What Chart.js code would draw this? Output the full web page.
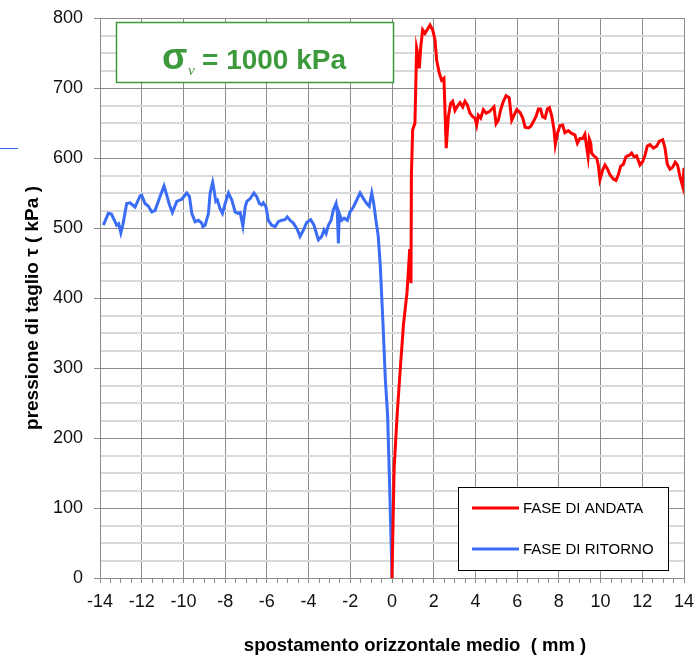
<!DOCTYPE html>
<html>
<head>
<meta charset="utf-8">
<script src="https://cdn.jsdelivr.net/npm/chart.js@4/dist/chart.umd.min.js"></script>
<style>
  html, body { margin: 0; padding: 0; background: #fff; }
  #wrap { width: 694px; height: 657px; position: relative; }
</style>
</head>
<body>
<div id="wrap"><canvas id="grafico" width="694" height="657"></canvas></div>
<script>
// fase di andata (rosso): spostamento (mm) e pressione di taglio (kPa)
const andataX = [0, 0.1, 0.25, 0.4, 0.55, 0.72, 0.85, 0.91, 0.93, 0.99, 1.1, 1.18, 1.26, 1.31, 1.38, 1.47, 1.58, 1.7, 1.82, 1.95,
  2.06, 2.14, 2.27, 2.38, 2.49, 2.6, 2.7, 2.81, 2.91, 3.02, 3.13, 3.26, 3.39, 3.5, 3.61, 3.74, 3.87, 3.98,
  4.06, 4.14, 4.25, 4.38, 4.51, 4.66, 4.83, 4.89, 4.99, 5.1, 5.21, 5.34, 5.47, 5.62, 5.74, 5.85, 5.98,
  6.14, 6.27, 6.38, 6.54, 6.65, 6.78, 6.9, 7.02, 7.12, 7.22, 7.34, 7.45, 7.55, 7.66, 7.77, 7.83, 7.93,
  8.05, 8.18, 8.29, 8.45, 8.61, 8.77, 8.89, 9.01, 9.14, 9.25, 9.33, 9.4, 9.46, 9.53, 9.57, 9.68, 9.81, 9.89, 9.97,
  10.1, 10.21, 10.32, 10.45, 10.61, 10.74, 10.85, 10.96, 11.09, 11.22, 11.38, 11.49, 11.6, 11.73, 11.89,
  12.02, 12.13, 12.24, 12.37, 12.53, 12.69, 12.82, 12.98, 13.09, 13.2, 13.33, 13.46, 13.58, 13.69, 13.81, 13.94, 14.0];
const andataY = [0, 155, 235, 300, 362, 408, 470, 421, 575, 640, 650, 757, 745, 728, 759, 783, 778, 784, 790, 783,
  769, 740, 721, 711, 714, 614, 659, 678, 681, 668, 674, 679, 673, 681, 676, 664, 659, 657,
  647, 661, 657, 669, 664, 666, 671, 673, 649, 654, 669, 681, 689, 686, 654, 661, 669,
  665, 657, 644, 643, 645, 652, 659, 670, 670, 659, 657, 670, 672, 660, 640, 619, 635,
  646, 647, 636, 639, 635, 633, 621, 628, 628, 634, 616, 602, 627, 621, 607, 603, 600, 590, 569,
  583, 590, 585, 576, 570, 568, 576, 588, 591, 602, 604, 607, 602, 603, 590,
  595, 604, 617, 619, 614, 617, 624, 626, 614, 591, 584, 587, 594, 590, 573, 559, 586];

// fase di ritorno (blu)
const ritornoX = [-13.84, -13.6, -13.45, -13.2, -13.1, -13.0, -12.9, -12.72, -12.56, -12.32, -12.08, -12.0, -11.84, -11.68,
  -11.52, -11.36, -11.12, -10.93, -10.8, -10.69, -10.53, -10.32, -10.08, -9.84, -9.71, -9.6, -9.44, -9.28, -9.12,
  -9.07, -8.96, -8.8, -8.72, -8.6, -8.53, -8.45, -8.37, -8.25, -8.13, -8.0, -7.84, -7.68, -7.52, -7.39, -7.28,
  -7.15, -7.04, -6.96, -6.8, -6.62, -6.49, -6.36, -6.25, -6.17, -6.04, -5.93, -5.77, -5.6, -5.45, -5.29, -5.13,
  -5.02, -4.89, -4.73, -4.54, -4.41, -4.25, -4.09, -3.9, -3.74, -3.53, -3.37, -3.26, -3.16, -3.05, -2.92, -2.81,
  -2.68, -2.62, -2.57, -2.53, -2.41, -2.29, -2.14, -2.01, -1.85, -1.69, -1.53, -1.37, -1.21, -1.09, -0.97, -0.89,
  -0.77, -0.66, -0.56, -0.43, -0.32, -0.21, -0.11, -0.03, 0];
const ritornoY = [504, 521, 520, 504, 506, 493, 505, 535, 536, 530, 546, 547, 535, 531,
  523, 525, 545, 560, 547, 535, 522, 538, 541, 550, 545, 521, 509, 511, 507,
  502, 504, 521, 550, 565, 554, 538, 540, 528, 521, 535, 550, 540, 523, 521, 522,
  503, 530, 538, 542, 550, 545, 535, 533, 536, 530, 511, 504, 502, 509, 511, 512,
  516, 511, 507, 498, 488, 497, 508, 512, 504, 483, 488, 497, 492, 504, 511, 526,
  535, 521, 478, 521, 511, 514, 511, 523, 530, 540, 550, 542, 535, 531, 550, 538,
  511, 488, 445, 362, 284, 232, 129, 36, 0];

const xTicks = [-14, -12, -10, -8, -6, -4, -2, 0, 2, 4, 6, 8, 10, 12, 14];
const yTicks = [0, 100, 200, 300, 400, 500, 600, 700, 800];

const FONT = "'Liberation Sans', Arial, sans-serif";
const VERDE = '#3c9a3c';

function toPoints(xs, ys) {
    return xs.map((x, i) => ({ x: x, y: ys[i] }));
}

// niente margini automatici per le etichette: l'area del grafico la decide layout.padding
function azzeraPadding(scale) {
    scale.paddingLeft = 0;
    scale.paddingRight = 0;
    scale.paddingTop = 0;
    scale.paddingBottom = 0;
}

// titoli degli assi, riquadro sigma e legenda disegnati sopra il grafico
const decorazioni = {
    id: 'decorazioni',
    afterDraw(chart) {
        const ctx = chart.ctx;
        ctx.save();

        // titolo asse x
        ctx.fillStyle = '#000';
        ctx.font = 'bold 18.5px ' + FONT;
        ctx.textAlign = 'center';
        ctx.textBaseline = 'alphabetic';
        ctx.fillText('spostamento orizzontale medio  ( mm )', 415, 651);

        // titolo asse y
        ctx.save();
        ctx.translate(38, 308);
        ctx.rotate(-Math.PI / 2);
        ctx.font = 'bold 19px ' + FONT;
        ctx.fillText('pressione di taglio \u03C4 ( kPa )', 0, 0);
        ctx.restore();

        // riquadro con la tensione verticale
        ctx.fillStyle = '#fff';
        ctx.fillRect(116, 22, 278, 61);
        ctx.strokeStyle = VERDE;
        ctx.lineWidth = 1.5;
        ctx.strokeRect(116.5, 22.5, 277, 60);
        ctx.fillStyle = VERDE;
        ctx.textAlign = 'left';
        ctx.font = 'bold 37px ' + FONT;
        ctx.fillText('\u03C3', 162, 69);
        ctx.font = 'italic 15px "Liberation Serif", serif';
        ctx.fillText('\u03BD', 188, 75);
        ctx.font = 'bold 28px ' + FONT;
        ctx.fillText('= 1000 kPa', 202, 69);

        // legenda
        ctx.fillStyle = '#fff';
        ctx.fillRect(458, 487, 210, 83);
        ctx.strokeStyle = '#000';
        ctx.lineWidth = 1;
        ctx.strokeRect(458.5, 487.5, 210, 83);
        ctx.font = '15px ' + FONT;
        ctx.textBaseline = 'middle';
        chart.data.datasets.forEach((ds, i) => {
            const y = 508 + i * 41;
            ctx.strokeStyle = ds.borderColor;
            ctx.lineWidth = 3;
            ctx.beginPath();
            ctx.moveTo(472, y);
            ctx.lineTo(519, y);
            ctx.stroke();
            ctx.fillStyle = '#000';
            ctx.fillText(ds.label, 523, y + 1);
        });

        // trattino blu isolato a sinistra
        ctx.strokeStyle = '#3a6cf4';
        ctx.lineWidth = 1;
        ctx.beginPath();
        ctx.moveTo(0, 148.5);
        ctx.lineTo(18, 148.5);
        ctx.stroke();

        ctx.restore();
    }
};

const ctx = document.getElementById('grafico').getContext('2d');
new Chart(ctx, {
    type: 'line',
    data: {
        datasets: [
            {
                label: 'FASE DI ANDATA',
                data: toPoints(andataX, andataY),
                borderColor: '#ff0000',
                borderWidth: 3,
                pointRadius: 0,
                tension: 0,
                fill: false
            },
            {
                label: 'FASE DI RITORNO',
                data: toPoints(ritornoX, ritornoY),
                borderColor: '#3a6cf4',
                borderWidth: 3,
                pointRadius: 0,
                tension: 0,
                fill: false
            }
        ]
    },
    options: {
        responsive: false,
        animation: false,
        devicePixelRatio: 1,
        layout: { padding: { top: 18, right: 10, left: 0, bottom: 0 } },
        plugins: {
            legend: { display: false },
            tooltip: { enabled: false }
        },
        scales: {
            x: {
                type: 'linear',
                min: -14,
                max: 14,
                afterFit: (scale) => { scale.height = 79; azzeraPadding(scale); },
                afterBuildTicks: (scale) => {
                    const t = [];
                    for (let v = -28; v <= 28; v++) t.push({ value: v / 2 });
                    scale.ticks = t;
                },
                ticks: {
                    autoSkip: false,
                    maxRotation: 0,
                    padding: 8,
                    color: '#111',
                    font: { family: FONT, size: 18 },
                    callback: (v) => xTicks.includes(v) ? String(v) : ''
                },
                grid: {
                    color: (c) => xTicks.includes(c.tick.value) ? '#8c8c8c' : 'rgba(0,0,0,0)',
                    lineWidth: 1,
                    tickColor: '#8c8c8c',
                    tickLength: 5
                },
                border: { color: '#8c8c8c', width: 1 }
            },
            y: {
                min: 0,
                max: 800,
                afterFit: (scale) => { scale.width = 100; azzeraPadding(scale); },
                afterBuildTicks: (scale) => {
                    const t = [];
                    for (let v = 0; v <= 800; v += 25) t.push({ value: v });
                    scale.ticks = t;
                },
                ticks: {
                    autoSkip: false,
                    padding: 11,
                    color: '#111',
                    font: { family: FONT, size: 18 },
                    callback: (v) => yTicks.includes(v) ? String(v) : ''
                },
                grid: {
                    color: (c) => yTicks.includes(c.tick.value) ? '#8c8c8c' : '#d9d9d9',
                    lineWidth: (c) => yTicks.includes(c.tick.value) ? 1 : 2,
                    tickColor: (c) => yTicks.includes(c.tick.value) ? '#8c8c8c' : 'rgba(0,0,0,0)',
                    tickLength: 6
                },
                border: { color: '#8c8c8c', width: 1 }
            }
        }
    },
    plugins: [decorazioni]
});
</script>
</body>
</html>
